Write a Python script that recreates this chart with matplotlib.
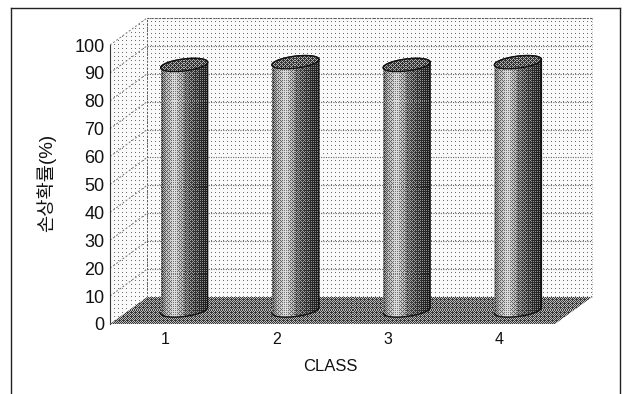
import matplotlib
matplotlib.use("Agg")
import matplotlib.pyplot as plt
import numpy as np
from matplotlib.lines import Line2D
from matplotlib.patches import Polygon

plt.rcParams["font.family"] = ["Liberation Sans", "Noto Sans CJK KR", "DejaVu Sans"]

classes = [1, 2, 3, 4]
loss_pct = [88, 89, 88, 89]
y_ticks = [0, 10, 20, 30, 40, 50, 60, 70, 80, 90, 100]

# depth of the fake 3D box, in data units
DX = 0.333
DY = 9.68
BAR_RX = 0.211
BAR_RY = 2.15
BAR_TILT = 1.0

BAYER = np.array([[0, 8, 2, 10], [12, 4, 14, 6], [3, 11, 1, 9], [15, 7, 13, 5]]) / 16 + 1 / 32


def halftone(levels, soft):
    """Turn grey levels into a scanned looking dot pattern."""
    h, w = levels.shape
    thresh = np.tile(BAYER, (h // 4 + 1, w // 4 + 1))[:h, :w]
    dots = (levels > thresh).astype(float)
    return dots * (1 - soft) + levels * soft


def fill_image(ax, poly, levels, zorder, soft=0.5):
    xy = np.array(poly)
    patch = Polygon(xy, closed=True, facecolor="none", edgecolor="none", zorder=zorder, clip_on=False)
    ax.add_patch(patch)
    extent = [xy[:, 0].min(), xy[:, 0].max(), xy[:, 1].min(), xy[:, 1].max()]
    im = ax.imshow(halftone(levels, soft), cmap="gray", vmin=0, vmax=1, extent=extent, aspect="auto",
                   interpolation="nearest", zorder=zorder, origin="upper")
    # the box sticks out of the axes, so only the polygon may clip it
    im.set_clip_box(ax.figure.bbox)
    im.set_clip_path(patch)


def ellipse(cx, cy, start=0, stop=2 * np.pi):
    t = np.linspace(start, stop, 60)
    return np.column_stack([
        cx + BAR_RX * np.cos(t),
        cy + BAR_RY * np.sin(t) + BAR_TILT * np.cos(t),
    ])


def draw_cylinder(ax, x, value, zorder):
    cx = x + DX / 2
    base = DY / 2
    top = base + value
    lower = ellipse(cx, base, np.pi, 2 * np.pi)
    upper = ellipse(cx, top, 0, np.pi)
    body = np.vstack([lower, upper])

    # shading runs across the cylinder, light left of centre and dark on the right
    across = np.linspace(0, 1, 48)
    shade = np.interp(across, [0, 0.08, 0.28, 0.55, 0.8, 1], [0.42, 0.55, 0.78, 0.42, 0.3, 0.2])
    fill_image(ax, body, np.tile(shade, (262, 1)), zorder, soft=0.6)
    ax.plot(*body.T, color="#111111", lw=1.0, zorder=zorder + 0.1, clip_on=False)

    cap = ellipse(cx, top)
    fill_image(ax, cap, np.full((14, 48), 0.4), zorder + 0.2)
    ax.plot(*cap.T, color="#111111", lw=1.0, zorder=zorder + 0.3, clip_on=False)


fig = plt.figure(figsize=(6.25, 3.94), dpi=100)
ax = fig.add_axes([110 / 625, 1 - 324 / 394, 445 / 625, 279 / 394])
ax.patch.set_visible(False)

x0, x1 = 0.5, 4.5
y0, y1 = 0, 100

back_wall = [(x0 + DX, y0 + DY), (x1 + DX, y0 + DY), (x1 + DX, y1 + DY), (x0 + DX, y1 + DY)]
side_wall = [(x0, y0), (x0 + DX, y0 + DY), (x0 + DX, y1 + DY), (x0, y1)]
floor = [(x0, y0), (x1, y0), (x1 + DX, y0 + DY), (x0 + DX, y0 + DY)]

fill_image(ax, back_wall, np.full((280, 445), 0.95), 1, soft=0.45)
fill_image(ax, side_wall, np.full((307, 37), 0.95), 1, soft=0.45)

for tick in y_ticks[1:]:
    ax.plot([x0 + DX, x1 + DX], [tick + DY, tick + DY], color="#666666", lw=0.8, ls=(0, (1, 1.2)), zorder=2, clip_on=False)
    ax.plot([x0, x0 + DX], [tick, tick + DY], color="#777777", lw=0.7, ls=(0, (2, 2)), zorder=2, clip_on=False)
ax.plot([x0 + DX, x0 + DX], [y0 + DY, y1 + DY], color="#555555", lw=0.7, ls=(0, (2, 1.5)), zorder=2, clip_on=False)
ax.plot([x1 + DX, x1 + DX], [y0 + DY, y1 + DY], color="#999999", lw=0.6, ls=(0, (1, 2)), zorder=2, clip_on=False)
ax.plot([x0 + DX, x1 + DX], [y1 + DY, y1 + DY], color="#555555", lw=0.7, ls=(0, (2, 2)), zorder=2, clip_on=False)

fill_image(ax, floor, np.full((27, 482), 0.45), 3, soft=0.5)

for i, (c, v) in enumerate(zip(classes, loss_pct)):
    draw_cylinder(ax, c, v, 5 + i)

ax.set_xlim(x0, x1)
ax.set_ylim(y0, y1)
ax.set_xticks(classes)
ax.set_yticks(y_ticks)
ax.tick_params(axis="x", length=0, labelsize=11.5, pad=6, labelcolor="#111111")
ax.tick_params(axis="y", length=0, labelsize=13, pad=4, labelcolor="#111111")
for name in ["top", "right", "bottom"]:
    ax.spines[name].set_visible(False)
ax.spines["left"].set_color("#333333")
ax.spines["left"].set_linewidth(0.8)
ax.spines["left"].set_linestyle((0, (1, 1)))

ax.set_xlabel("CLASS", fontsize=12, color="#111111")
ax.xaxis.set_label_coords(0.494, -0.125)
ax.set_ylabel("손상확률(%)", fontsize=13.5, color="#111111")
ax.yaxis.set_label_coords(-0.122, 0.505)

# scanned page frame, open at the bottom
frame = [((11, 8), (11, 393)), ((11, 8), (620, 8)), ((620, 8), (620, 393))]
for (xa, ya), (xb, yb) in frame:
    fig.add_artist(Line2D([xa / 625, xb / 625], [1 - ya / 394, 1 - yb / 394], color="#222222", lw=1.0))

fig.savefig("out.png", dpi=100)
plt.close(fig)
